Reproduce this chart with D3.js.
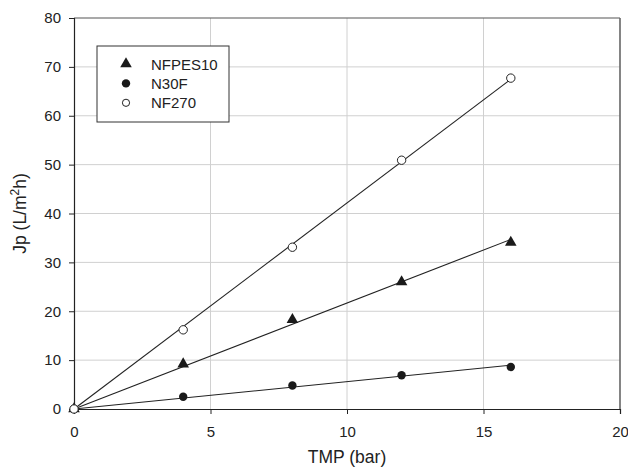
<!DOCTYPE html>
<html>
<head>
  <script src="https://d3js.org/d3.v7.min.js"></script>
  <style>
    body { margin: 0; background: #fff; }
    text { font-family: "Liberation Sans", Arial, sans-serif; fill: #222; }
  </style>
</head>
<body>
  <div id="chart"></div>
  <script>
    // TMP values (bar)
    const tmp = [0, 4, 8, 12, 16];
    // Jp values per membrane
    const nfpes10 = [0, 9.2, 18.3, 26.0, 34.1];
    const n30f = [0, 2.5, 4.8, 6.9, 8.6];
    const nf270 = [0, 16.2, 33.1, 50.9, 67.7];

    const seriesNames = ["NFPES10", "N30F", "NF270"];
    const xTicks = [0, 5, 10, 15, 20];
    const yTicks = [0, 10, 20, 30, 40, 50, 60, 70, 80];

    const W = 628, H = 467;
    const margin = { top: 18, right: 8, bottom: 58, left: 74 };
    const width = W - margin.left - margin.right;
    const height = H - margin.top - margin.bottom;

    const svg = d3.select("#chart").append("svg")
      .attr("width", W).attr("height", H);
    const g = svg.append("g")
      .attr("transform", "translate(" + margin.left + "," + margin.top + ")");

    const x = d3.scaleLinear().domain([0, 20]).range([0, width]);
    const y = d3.scaleLinear().domain([0, 80]).range([height, 0]);

    // grid lines
    g.selectAll(".gx").data(xTicks.slice(1, -1)).enter().append("line")
      .attr("x1", d => x(d)).attr("x2", d => x(d))
      .attr("y1", 0).attr("y2", height)
      .attr("stroke", "#d0d0d0").attr("stroke-width", 1);
    g.selectAll(".gy").data(yTicks.slice(1, -1)).enter().append("line")
      .attr("x1", 0).attr("x2", width)
      .attr("y1", d => y(d)).attr("y2", d => y(d))
      .attr("stroke", "#d0d0d0").attr("stroke-width", 1);

    // frame (top and right)
    g.append("line").attr("x1", 0).attr("x2", width).attr("y1", 0).attr("y2", 0)
      .attr("stroke", "#555").attr("stroke-width", 1.2);
    g.append("line").attr("x1", width).attr("x2", width).attr("y1", 0).attr("y2", height)
      .attr("stroke", "#666").attr("stroke-width", 1.6);

    // axes
    const xAxis = g.append("g")
      .attr("transform", "translate(0," + height + ")")
      .call(d3.axisBottom(x).tickValues(xTicks).tickSize(5).tickPadding(12));
    const yAxis = g.append("g")
      .call(d3.axisLeft(y).tickValues(yTicks).tickSize(5).tickPadding(8));
    [xAxis, yAxis].forEach(a => {
      a.select(".domain").attr("stroke", "#222").attr("stroke-width", 1.2);
      a.selectAll(".tick line").attr("stroke", "#222");
      a.selectAll(".tick text").style("font-size", "15px")
        .style("font-family", "'Liberation Sans', Arial, sans-serif").attr("fill", "#222");
    });

    // fitted lines through origin
    const data = [nfpes10, n30f, nf270];
    data.forEach(vals => {
      const sxy = d3.sum(tmp, (t, i) => t * vals[i]);
      const sxx = d3.sum(tmp, t => t * t);
      const k = sxy / sxx;
      const xmax = d3.max(tmp);
      g.append("line")
        .attr("x1", x(0)).attr("y1", y(0))
        .attr("x2", x(xmax)).attr("y2", y(k * xmax))
        .attr("stroke", "#222").attr("stroke-width", 1.1);
    });

    const tri = d3.symbol().type(d3.symbolTriangle).size(58);

    function drawMarker(sel, idx, r) {
      if (idx === 0) {
        sel.append("path").attr("d", tri).attr("fill", "#1a1a1a");
      } else if (idx === 1) {
        sel.append("circle").attr("r", r).attr("fill", "#1a1a1a");
      } else {
        sel.append("circle").attr("r", r).attr("fill", "#fff")
          .attr("stroke", "#222").attr("stroke-width", 1);
      }
    }

    data.forEach((vals, si) => {
      tmp.forEach((t, i) => {
        const m = g.append("g")
          .attr("transform", "translate(" + x(t) + "," + y(vals[i]) + ")");
        drawMarker(m, si, 4.2);
      });
    });

    // legend
    const lg = svg.append("g").attr("transform", "translate(97,46)");
    lg.append("rect").attr("width", 132).attr("height", 76)
      .attr("fill", "#fff").attr("stroke", "#333").attr("stroke-width", 1);
    seriesNames.forEach((name, i) => {
      const row = lg.append("g").attr("transform", "translate(29," + (18 + i * 19.4) + ")");
      drawMarker(row, i, i === 1 ? 4.2 : 3.6);
      row.append("text").attr("x", 25).attr("y", 5.5)
        .style("font-size", "15px").text(name);
    });

    // axis titles
    svg.append("text")
      .attr("x", margin.left + width / 2).attr("y", 463)
      .attr("text-anchor", "middle").style("font-size", "17.5px")
      .text("TMP (bar)");
    const yt = svg.append("text")
      .attr("transform", "translate(26," + (margin.top + height / 2) + ") rotate(-90)")
      .attr("text-anchor", "middle").style("font-size", "17.5px");
    yt.append("tspan").text("Jp (L/m");
    yt.append("tspan").attr("baseline-shift", "super").style("font-size", "12px").text("2");
    yt.append("tspan").text("h)");
  </script>
</body>
</html>
